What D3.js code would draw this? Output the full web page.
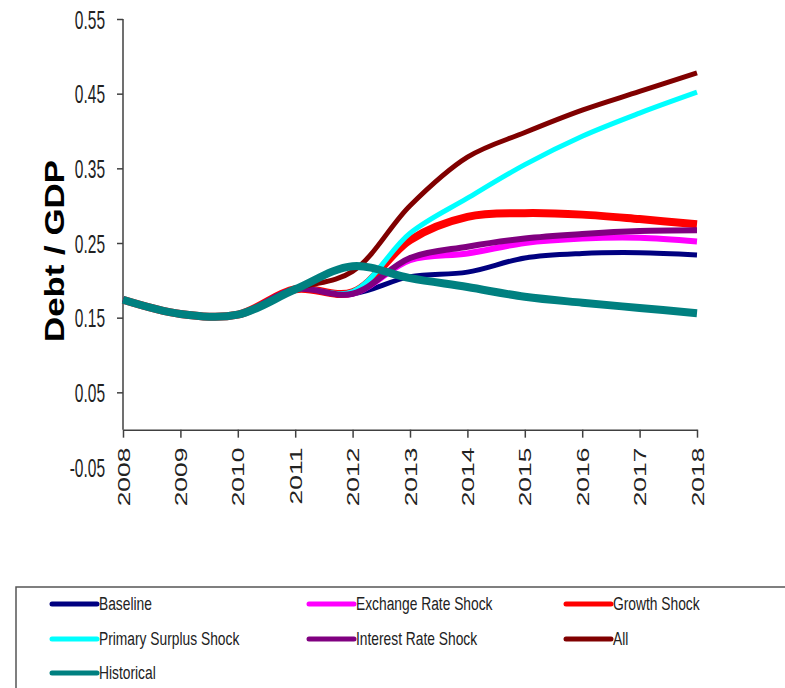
<!DOCTYPE html>
<html><head><meta charset="utf-8">
<script src="https://cdn.jsdelivr.net/npm/d3@7"></script>
<style>body{margin:0;background:#fff;overflow:hidden}</style>
</head><body>
<svg id="c" width="785" height="688"></svg>
<script>
const years = [2008, 2009, 2010, 2011, 2012, 2013, 2014, 2015, 2016, 2017, 2018];
const baseline   = [0.174, 0.155, 0.154, 0.188, 0.182, 0.205, 0.211, 0.230, 0.236, 0.237, 0.234];
const exchange   = [0.174, 0.155, 0.154, 0.188, 0.182, 0.227, 0.236, 0.250, 0.256, 0.257, 0.252];
const growth     = [0.174, 0.155, 0.154, 0.188, 0.184, 0.254, 0.285, 0.290, 0.288, 0.282, 0.275];
const primary    = [0.174, 0.155, 0.154, 0.188, 0.185, 0.263, 0.310, 0.355, 0.393, 0.424, 0.452];
const interest   = [0.174, 0.155, 0.154, 0.188, 0.182, 0.230, 0.245, 0.256, 0.262, 0.266, 0.267];
const allShocks  = [0.174, 0.155, 0.154, 0.188, 0.212, 0.300, 0.365, 0.398, 0.428, 0.453, 0.478];
const historical = [0.174, 0.155, 0.154, 0.188, 0.219, 0.203, 0.191, 0.178, 0.170, 0.163, 0.156];
const yTicks = [-0.05, 0.05, 0.15, 0.25, 0.35, 0.45, 0.55];
const seriesNames = ["Baseline", "Exchange Rate Shock", "Growth Shock", "Primary Surplus Shock", "Interest Rate Shock", "All", "Historical"];
const seriesValues = [baseline, exchange, growth, primary, interest, allShocks, historical];
const seriesColors = ["#000080", "#ff00ff", "#ff0000", "#00ffff", "#800080", "#800000", "#008080"];
const seriesWidths = [5, 6, 8, 5, 6, 5, 8];

const svg = d3.select("#c");
const x = d3.scaleLinear().domain([2008, 2018]).range([123, 697]);
const y = d3.scaleLinear().domain([-0.05, 0.55]).range([467, 19]);
const FONT = "'Liberation Sans', Arial, sans-serif";
const fmtY = d => d3.format(".2f")(d).replace("\u2212", "-");

// Y axis
const yAxis = svg.append("g").attr("transform", `translate(${x(2008)},0)`)
  .call(d3.axisLeft(y).tickValues(yTicks).tickSize(6).tickFormat(fmtY));
yAxis.select(".domain").remove();
yAxis.selectAll(".tick line").attr("stroke", "#404040").attr("stroke-width", 1.5)
  .filter(d => d < 0).remove();
yAxis.selectAll(".tick text")
  .attr("x", -18).attr("dy", "0.36em")
  .attr("transform", "scale(1,1.62)")
  .attr("font-family", FONT).attr("font-size", 15.5).attr("fill", "#222");
svg.append("line").attr("x1", x(2008)).attr("x2", x(2008))
  .attr("y1", y(0.55)).attr("y2", y(0)).attr("stroke", "#404040").attr("stroke-width", 1.5);

// X axis
const xAxis = svg.append("g").attr("transform", `translate(0,${y(0)})`)
  .call(d3.axisBottom(x).tickValues(years).tickSize(8).tickSizeOuter(0).tickFormat(d3.format("d")));
xAxis.select(".domain").attr("stroke", "#404040").attr("stroke-width", 1.5);
xAxis.selectAll(".tick line").attr("stroke", "#404040").attr("stroke-width", 1.5);
xAxis.selectAll(".tick text")
  .attr("y", 0).attr("dy", 0)
  .attr("text-anchor", "end")
  .attr("transform", "translate(6,18) rotate(-90) scale(1.6,1)")
  .attr("font-family", FONT).attr("font-size", 16.5).attr("fill", "#222");

// Y label
svg.append("text")
  .attr("transform", `translate(64,251) rotate(-90)`)
  .attr("text-anchor", "middle")
  .attr("font-family", FONT).attr("font-weight", "bold").attr("font-size", 28)
  .attr("textLength", 182).attr("lengthAdjust", "spacingAndGlyphs")
  .attr("fill", "#000").text("Debt / GDP");

// Lines
const line = d3.line().x((d, i) => x(years[i])).y(d => y(d)).curve(d3.curveCatmullRom.alpha(0.5));
seriesValues.forEach((vals, k) => {
  svg.append("path").datum(vals).attr("d", line)
    .attr("fill", "none").attr("stroke", seriesColors[k])
    .attr("stroke-width", seriesWidths[k]).attr("stroke-linecap", "butt").attr("stroke-linejoin", "round");
});

// Legend
svg.append("rect").attr("x", 16).attr("y", 587).attr("width", 790).attr("height", 120)
  .attr("fill", "none").attr("stroke", "#555").attr("stroke-width", 1.5);
const colX = [52, 309, 566];
const rowY = [604, 639, 673];
seriesNames.forEach((name, k) => {
  const cx = colX[k % 3], cy = rowY[Math.floor(k / 3)];
  svg.append("line").attr("x1", cx).attr("x2", cx + 45).attr("y1", cy).attr("y2", cy)
    .attr("stroke", seriesColors[k]).attr("stroke-width", 5).attr("stroke-linecap", "round");
  svg.append("g").attr("transform", `translate(${cx + 47},${cy + 6.3})`)
    .append("text").attr("transform", "scale(1,1.28)")
    .attr("font-family", FONT).attr("font-size", 13.8).attr("fill", "#222").text(name);
});
</script>
</body></html>
